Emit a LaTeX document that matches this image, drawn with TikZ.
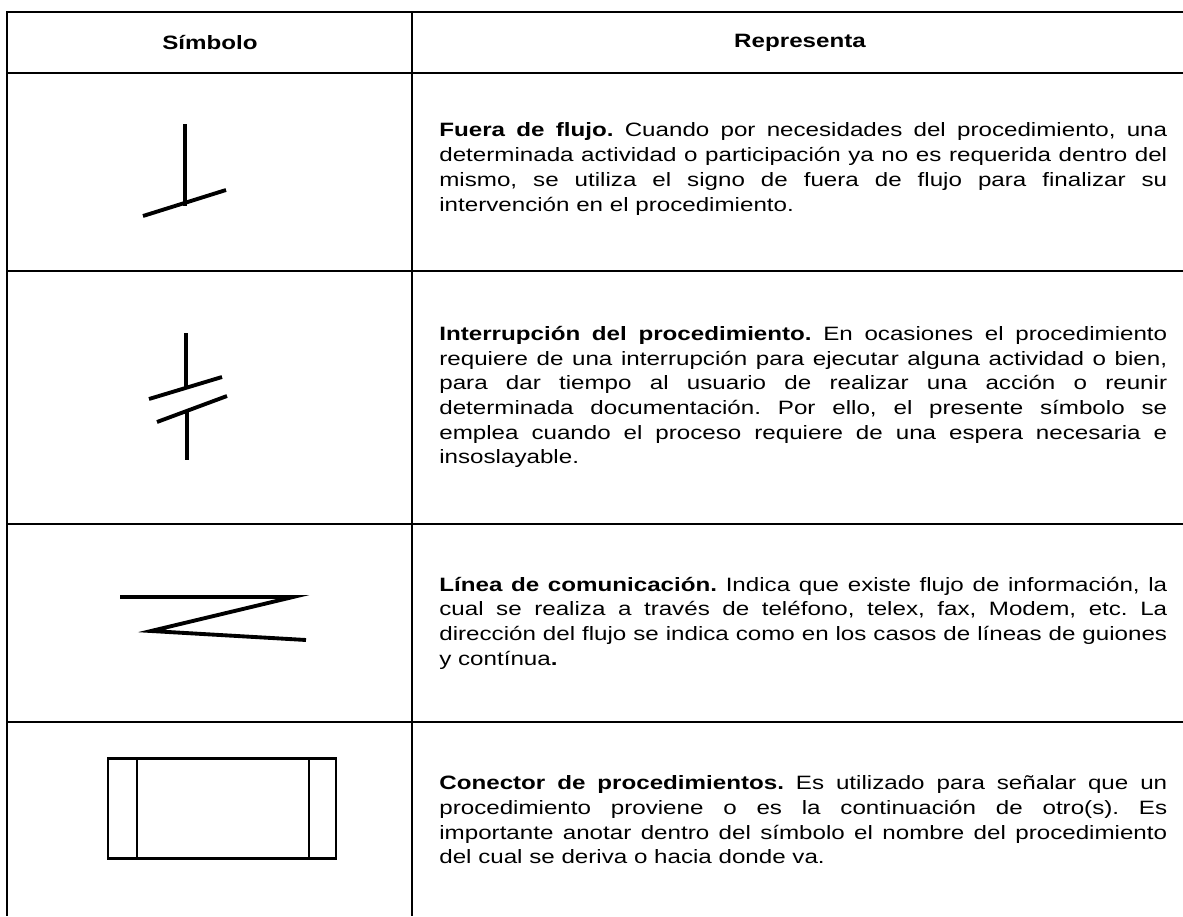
\documentclass[tikz,border=0pt]{standalone}
\usepackage{fontspec}
\setmainfont{Liberation Sans}[FakeStretch=1.25]

\begin{document}
\frenchspacing
\begin{tikzpicture}[x=0.02cm, y=-0.02cm,
		rule/.style={line width=0.9pt},
		sym/.style={line width=2.2pt},
		desc/.style={anchor=west, inner sep=0pt, text width=14.56cm, align=justify, font=\fontsize{11}{14.05}\selectfont}]

				\useasboundingbox (0, 0) rectangle (1183, 916);

				% table rules
				\draw [rule] (6, 12) -- (1183, 12);
				\draw [rule] (7, 12) -- (7, 916);
				\draw [rule] (412, 12) -- (412, 916);
				\draw [rule] (7, 73) -- (1183, 73);
				\draw [rule] (7, 271) -- (1183, 271);
				\draw [rule] (7, 524) -- (1183, 524);
				\draw [rule] (7, 722) -- (1183, 722);

				\node [font=\fontsize{11}{14}\selectfont\bfseries] (H0) at (210, 43) {Símbolo};
				\node [font=\fontsize{11}{14}\selectfont\bfseries] (H1) at (800, 43) {Representa};

				% fuera de flujo
				\draw [sym] (185, 124) -- (185, 206);
				\draw [sym] (143, 216) -- (226, 190);

				% interrupcion
				\draw [sym] (186, 333) -- (186, 387);
				\draw [sym] (149, 399) -- (222, 377);
				\draw [sym] (157, 422) -- (227, 396);
				\draw [sym] (187, 410) -- (187, 460);

				% linea de comunicacion
				\draw [sym, line join=miter] (120, 597) -- (293, 597) -- (151, 631) -- (306, 640);

				% conector
				\draw [line width=1.7pt] (108, 758) rectangle (336, 858);
				\draw [line width=1.7pt] (137, 758) -- (137, 858);
				\draw [line width=1.7pt] (309, 758) -- (309, 858);

				\node [desc] (D0) at (439, 169) {\textbf{Fuera de flujo.} Cuando por necesidades del procedimiento, una\linebreak determinada actividad o participación ya no es requerida dentro del\linebreak mismo, se utiliza el signo de fuera de flujo para finalizar su\linebreak intervención en el procedimiento.};
				\node [desc] (D1) at (439, 397) {\textbf{Interrupción del procedimiento.} En ocasiones el procedimiento\linebreak requiere de una interrupción para ejecutar alguna actividad o bien,\linebreak para dar tiempo al usuario de realizar una acción o reunir\linebreak determinada documentación. Por ello, el presente símbolo se\linebreak emplea cuando el proceso requiere de una espera necesaria e\linebreak insoslayable.};
				\node [desc] (D2) at (439, 623) {\textbf{Línea de comunicación.} Indica que existe flujo de información, la\linebreak cual se realiza a través de teléfono, telex, fax, Modem, etc. La\linebreak dirección del flujo se indica como en los casos de líneas de guiones\linebreak y contínua\textbf{.}};
				\node [desc] (D3) at (439, 820) {\textbf{Conector de procedimientos.} Es utilizado para señalar que un\linebreak procedimiento proviene o es la continuación de otro(s). Es\linebreak importante anotar dentro del símbolo el nombre del procedimiento\linebreak del cual se deriva o hacia donde va.};
		\end{tikzpicture}
\end{document}
